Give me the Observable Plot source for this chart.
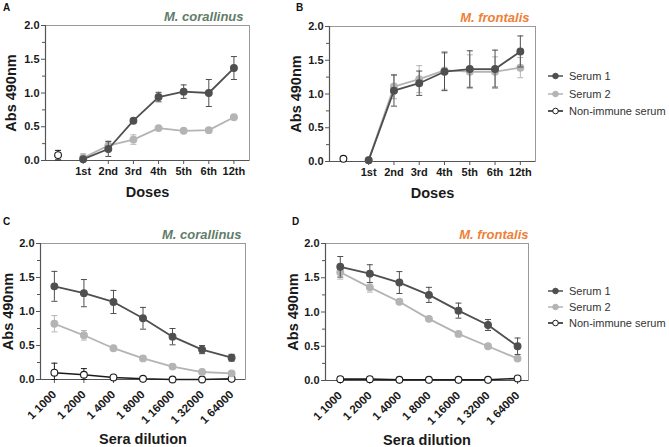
<!DOCTYPE html>
<html><head><meta charset="utf-8">
<script src="https://cdn.jsdelivr.net/npm/d3@7"></script>
<script src="https://cdn.jsdelivr.net/npm/@observablehq/plot@0.6"></script>
<style>
body{margin:0;background:#fff;}
#wrap{position:relative;width:669px;height:447px;font-family:"Liberation Sans",Arial,sans-serif;background:#fff;overflow:hidden;}
.panel{position:absolute;}
.panel svg{font-family:"Liberation Sans",Arial,sans-serif;}
.panel g[aria-label="x-axis tick label"] text,.panel g[aria-label="y-axis tick label"] text{font-size:11px;font-weight:bold;fill:#1a1a1a;}
.panel.rot g[aria-label="x-axis tick label"] text{font-size:11.5px;}
.panel g[aria-label="x-axis label"] text,.panel g[aria-label="y-axis label"] text{font-size:14.5px;font-weight:bold;fill:#1a1a1a;}
.panel g[aria-label="text"] text{font-size:13px;font-weight:bold;font-style:italic;}
.letter{position:absolute;font-weight:bold;font-size:10px;color:#111;}
.legend{position:absolute;font-size:11px;color:#333;}
.legend .row{position:absolute;left:0;white-space:nowrap;height:14px;line-height:14px;}
.legend svg{position:absolute;left:0;top:0;}
.legend span{position:absolute;left:22px;top:0;}
</style>
</head><body>
<div id="wrap"></div>
<script>
// ---------- data ----------
const doses = ["1st","2nd","3rd","4th","5th","6th","12th"];
const dilutions = ["1 1000","1 2000","1 4000","1 8000","1 16000","1 32000","1 64000"];
const seriesNames = ["Serum 1","Serum 2","Non-immune serum"];

// Panel A (M. corallinus, doses)
const aSerum1 = [0.02,0.17,0.59,0.94,1.02,1.00,1.37];
const aSerum1Err = [0.02,0.11,0.02,0.07,0.10,0.20,0.17];
const aSerum2 = [0.04,0.22,0.31,0.48,0.44,0.45,0.64];
const aSerum2Err = [0.06,0.07,0.07,0.01,0.01,0.01,0.01];
const aNonImmune = [0.08];
const aNonImmuneErr = [0.07];

// Panel B (M. frontalis, doses)
const bSerum1 = [0.02,1.05,1.16,1.33,1.37,1.37,1.63];
const bSerum1Err = [0.01,0.23,0.18,0.28,0.27,0.28,0.23];
const bSerum2 = [0.02,1.11,1.22,1.35,1.33,1.33,1.39];
const bSerum2Err = [0.01,0.18,0.20,0.28,0.25,0.22,0.15];
const bNonImmune = [0.04];
const bNonImmuneErr = [0.0];

// Panel C (M. corallinus, dilutions)
const cSerum1 = [1.37,1.27,1.14,0.90,0.63,0.44,0.32];
const cSerum1Err = [0.22,0.20,0.17,0.16,0.12,0.06,0.05];
const cSerum2 = [0.82,0.65,0.46,0.31,0.19,0.11,0.09];
const cSerum2Err = [0.12,0.07,0.01,0.01,0.01,0.01,0.01];
const cNonImmune = [0.10,0.07,0.03,0.01,0.00,0.00,0.01];
const cNonImmuneErr = [0.14,0.09,0.02,0.02,0.01,0.01,0.01];

// Panel D (M. frontalis, dilutions)
const dSerum1 = [1.66,1.56,1.43,1.25,1.02,0.81,0.50];
const dSerum1Err = [0.15,0.13,0.16,0.11,0.11,0.08,0.12];
const dSerum2 = [1.58,1.36,1.15,0.90,0.68,0.50,0.32];
const dSerum2Err = [0.10,0.07,0.01,0.01,0.01,0.01,0.01];
const dNonImmune = [0.02,0.02,0.01,0.01,0.01,0.01,0.03];
const dNonImmuneErr = [0.03,0.03,0.02,0.02,0.02,0.02,0.02];

const yTicks = [0,0.5,1.0,1.5,2.0];
const yMinor = [0.25,0.75,1.25,1.75];

// ---------- styles ----------
const col1 = "#4f4f4f", col2 = "#b4b4b4", colNI = "#1c1c1c";
const corallinusColor = "#5f7d69", frontalisColor = "#ee8136";

const cap = {draw(ctx){ ctx.moveTo(-3,0); ctx.lineTo(3,0); }};

function seriesMarks(vals, errs, xStart, color, fill, lineW){
  const rows = vals.map((v,i)=>({x:xStart+i, y:v, lo:Math.max(0,v-errs[i]), hi:v+errs[i]}));
  return [
    Plot.ruleX(rows,{x:"x",y1:"lo",y2:"hi",stroke:color,strokeWidth:1}),
    Plot.dot(rows,{x:"x",y:"hi",symbol:cap,stroke:color,fill:"none",strokeWidth:1}),
    Plot.dot(rows,{x:"x",y:"lo",symbol:cap,stroke:color,fill:"none",strokeWidth:1}),
    Plot.line(rows,{x:"x",y:"y",stroke:color,strokeWidth:lineW}),
    Plot.dot(rows,{x:"x",y:"y",r:3.4,fill:fill,stroke:color,strokeWidth:1.1})
  ];
}

function panel(cfg){
  const div = document.createElement("div");
  div.className = "panel" + (cfg.rotate ? " rot" : "");
  div.style.left = cfg.left+"px"; div.style.top = cfg.top+"px";
  const chart = Plot.plot({
    width:cfg.width, height:cfg.height,
    marginLeft:cfg.mL, marginRight:cfg.mR, marginTop:cfg.mT, marginBottom:cfg.mB,
    style:{background:"transparent", overflow:"visible"},
    x:{domain:cfg.xDomain},
    y:{domain:[0,2]},
    marks:[
      Plot.frame({stroke:"#9a9a9a", strokeWidth:1}),
      Plot.ruleX([cfg.xDomain[0]],{stroke:"#555",strokeWidth:1.2}),
      Plot.ruleY([0],{stroke:"#555",strokeWidth:1.2}),
      Plot.axisY({ticks:yTicks, tickFormat:d3.format(".1f"), tickSize:4, tickPadding:2, stroke:"#555",
        label:"Abs 490nm", labelArrow:"none", labelAnchor:"center", labelOffset:cfg.yLabelOffset}),
      Plot.axisY({ticks:yMinor, tickSize:3, text:null, label:null, stroke:"#555"}),
      Plot.axisX({ticks:cfg.xTicks, tickFormat:cfg.xFormat, tickSize:4, tickPadding:cfg.rotate?9:3,
        tickRotate:cfg.rotate||0, stroke:"#555",
        label:cfg.xLabel, labelArrow:"none", labelAnchor:"center", labelOffset:cfg.xLabelOffset}),
      ...cfg.series.flat(),
      Plot.text([cfg.title],{frameAnchor:"top-right", text:d=>d, dx:cfg.titleDx, dy:cfg.titleDy, fill:cfg.titleColor, textAnchor:"end"})
    ]
  });
  div.appendChild(chart);
  document.getElementById("wrap").appendChild(div);
}

function letter(t,x,y){
  const d=document.createElement("div"); d.className="letter"; d.textContent=t;
  d.style.left=x+"px"; d.style.top=y+"px"; document.getElementById("wrap").appendChild(d);
}

function legend(x,y,gap){
  const lg=document.createElement("div"); lg.className="legend";
  lg.style.left=x+"px"; lg.style.top=y+"px";
  const specs=[[col1,col1],[col2,col2],[colNI,"#fff"]];
  seriesNames.forEach((name,i)=>{
    const [c,f]=specs[i];
    const row=document.createElement("div"); row.className="row"; row.style.top=(i*gap)+"px";
    row.innerHTML=`<svg width="18" height="14"><line x1="1" x2="16" y1="7" y2="7" stroke="${c}" stroke-width="1.5"/><circle cx="8.5" cy="7" r="2.8" fill="${f}" stroke="${c}" stroke-width="1"/></svg><span>${name}</span>`;
    lg.appendChild(row);
  });
  document.getElementById("wrap").appendChild(lg);
}

const doseFmt = i => doses[i-1];
const dilFmt = i => dilutions[i];

panel({left:0, top:0, width:280, height:210, mL:45, mR:31, mT:25, mB:50,
  xDomain:[-0.5,7.62], xTicks:[1,2,3,4,5,6,7], xFormat:doseFmt, xLabel:"Doses",
  yLabelOffset:40, xLabelOffset:36, title:"M. corallinus", titleColor:corallinusColor, titleDx:-6, titleDy:-14,
  series:[seriesMarks(aNonImmune,aNonImmuneErr,0,colNI,"#fff",1.6),
          seriesMarks(aSerum2,aSerum2Err,1,col2,col2,1.8),
          seriesMarks(aSerum1,aSerum1Err,1,col1,col1,1.8)]});

panel({left:284, top:0, width:265, height:210, mL:45, mR:14, mT:26, mB:49,
  xDomain:[-0.55,7.6], xTicks:[1,2,3,4,5,6,7], xFormat:doseFmt, xLabel:"Doses",
  yLabelOffset:39, xLabelOffset:36, title:"M. frontalis", titleColor:frontalisColor, titleDx:-6, titleDy:-14,
  series:[seriesMarks(bNonImmune,bNonImmuneErr,0,colNI,"#fff",1.6),
          seriesMarks(bSerum2,bSerum2Err,1,col2,col2,1.8),
          seriesMarks(bSerum1,bSerum1Err,1,col1,col1,1.8)]});

panel({left:0, top:210, width:280, height:237, mL:40, mR:35, mT:33, mB:68,
  xDomain:[-0.47,6.47], xTicks:[0,1,2,3,4,5,6], xFormat:dilFmt, xLabel:"Sera dilution", rotate:-45,
  yLabelOffset:38, xLabelOffset:64, title:"M. corallinus", titleColor:corallinusColor, titleDx:-4, titleDy:-14,
  series:[seriesMarks(cNonImmune,cNonImmuneErr,0,colNI,"#fff",1.6),
          seriesMarks(cSerum2,cSerum2Err,0,col2,col2,1.8),
          seriesMarks(cSerum1,cSerum1Err,0,col1,col1,1.8)]});

panel({left:280, top:210, width:265, height:237, mL:45, mR:17, mT:33, mB:67,
  xDomain:[-0.5,6.37], xTicks:[0,1,2,3,4,5,6], xFormat:dilFmt, xLabel:"Sera dilution", rotate:-45,
  yLabelOffset:38, xLabelOffset:64, title:"M. frontalis", titleColor:frontalisColor, titleDx:0, titleDy:-14,
  series:[seriesMarks(dNonImmune,dNonImmuneErr,0,colNI,"#fff",1.6),
          seriesMarks(dSerum2,dSerum2Err,0,col2,col2,1.8),
          seriesMarks(dSerum1,dSerum1Err,0,col1,col1,1.8)]});

letter("A",3,2); letter("B",296,2); letter("C",3,216); letter("D",292,216);
legend(547,69,17.5);
legend(547,284,16);
</script>
</body></html>
